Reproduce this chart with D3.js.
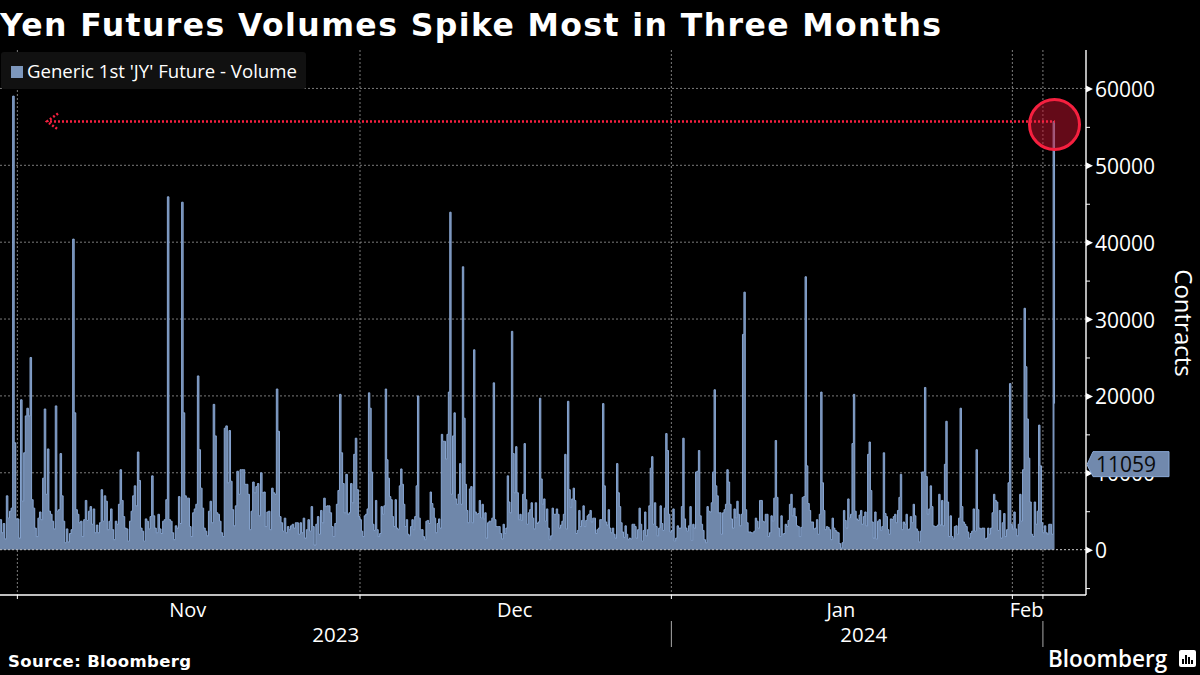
<!DOCTYPE html>
<html>
<head>
<meta charset="UTF-8" />
<script src="https://d3js.org/d3.v7.min.js"></script>
<style>
  html, body { margin: 0; background: #000; }
  svg { display: block; }
  text { font-family: "Open Sans", sans-serif; fill: #fff; }
</style>
</head>
<body>
<div id="chart"></div>
<script>
// volume, one list per stretch of the x axis
const volOctNov = [3900,2200,3400,1400,7000,4100,5000,5400,59000,13900,4000,4000,1500,19500,6300,12600,17400,18400,17400,25000,6500,5400,2800,1700,4100,4900,3900,9300,18300,7200,13100,5000,4600,3700,2700,18700,5000,5200,12500,7000,3700,900,2700,1000,2100,2600,40400,17800,5200,4600,3500,3700,1700,3900,6400,3800,5000,5600,3300,5300,2200,3200,2200,3500,7800,3700,7000,6300,2600,3700,5300,2600,1300,3700,3300,5900,10400,6400,4300,2800,2700,1100,3700,5000,7000,8300,5700,12700,9000,2800,2400,1100,4000,3700,2700,4300,9600,4400,2800,2200,4600,2700,2100,3700,3900,6500,45900,3900,3700,2200,1300,3100,2800,6900,3400,45200,17800,7000,6700,6700,3000,1700,4800,5300,5900,22600,13000,8000,5400,2800,2400,1800,5000,6300,3500,18900,14800,4800,4600,3700,2200,1700,15800,16100,8700,15500,8900,5200,3100,5700,10200,7200,10400,10400,10400,8500,8500,7200,2600,5000,8800,7400,8200,8600,4400,10000,7400,7500,3000,4900,5000,2600,8000,7400,7200,20900,15400,4300,3500,2400,4100,2200,3000,2600,3100,3300,2800,3500,3500,2000,3500,2200,4100,1500,2600,3900,2400,5600,3000,600,3300,4300,2000,5100,3500,6700,5600,5700,5700,4800,3000,1700,3400,5900,7700,20200,12600,8600,4800,9800,4600,4800,8600,6100,12400,14500,7800,4300];
const volNovDec = [3900,2400,1700,4400,4600,5300,20400,18400,10100,3300,2500,6400,2600,1700,2100,5600,4600,5700,20900,11700,9300,6900,6500,4300,3000,6500,2800,2600,8300,10500,8500,5900,3000,3900,2000,1800,3000,3900,2600,4300,8300,20000,4100,2600,2600,1700,1300,3700,3800,3400,7500,6000,5400,4100,2200,3400,4000,2800,15000,14100,14100,11800,15000,20500,43900,7200,14800,17800,6600,5900,7200,11200,5900,36800,17100,8500,5100,3500,7900,8200,3500,26000,4900,4600,4700,6400,4100,5900,4000,4800,1500,3500,3700,3700,4100,21700,3900,3000,3000,3000,2100,1400,3300,2100,2800,9600,6200,4800,28400,12500,7400,13400,7400,3900,4600,3800,7200,13800,6500,3300,4800,5200,6100,4100,2700,6100,3400,3600,19700,9200,5900,6600,3700,5300,2800,1300,1800,5400,4600,4600,5300,4600,2800,3200,3700,4600,12400,2700,19300,7800,5500,6600,8000,6400,2100,2500,5100,3000,3800,5700,3000,3800,4400,4600,5100,3600,4100,4100,2100,2600,2800,3900,3900,19000,8300,3600,3200,5200,2800,2200,2800,2000,1500,11200,7400,5600,3500,2300,1600,3100,2000,1300,1500,1400,3300,3300,3000,1500,2600,5400,3300,1100,2500,4900,1800,2600,5700,10600,12100,3300,6100,3000,1800,2800];
const volDecJan = [5700,3400,2500,5400,15100,12900,4600,2300,2500,5300,1100,1500,3100,2800,2800,5600,14500,4000,2800,2400,3100,5600,1200,3300,2800,10100,10200,12900,4400,3300,2500,1300,900,5600,5000,4900,6100,10100,20800,8300,7000,4800,4800,2000,4800,5200,5900,10400,8800,5900,4000,2800,5300,4100,6300,4600,3100,4600,28000,33500,5200,3500,2300,2300,2200,2200,2400,4100,3700,2800,6400,6400,3700,3600,4600,4600,1700,2200,4400,3700,6700,14200,6800,2800,1700,4400,2000,2100,3300,3000,3800,5900,7200,4400,5400,4300,3100,3000,1700,2900,6800,6900,35500,10900,6000,5100,3600,3600,2700,2800,3900,2000,4600,20500,8700,5100,2600,3000,2900,2600,1300,4100,2800,2500,2300,2200,800,200,900,5100,3800,2800,6600,4100,4600,13800,20200,5000,4000,3800,4500,5100,3300,4300,4900,3100,12400,14000,7700,3600,1500,4900,1400,3700,3900,2500,3000,12600,4700,4300,2600,2000,4000,3900,4300,4600,3500,5100,6800,9800,2600,3600,3300,4600,2600,2700,4300,3500,5900,4400,2700,2400,1000,2400,10100,10100,21100,9500,4600,5300,8300,5600,3100,3000,3000,3200,7200,3200,6400,3100,11100,16700,6200,1700,4400,1700,1400,3000,3100,2000,4100];
const volJanFeb = [18400,5600,3600,3300,3000,2300,1500,2100,2400,5300,2400,13000,5200,2800,2700,2800,2800,1400,1500,2800,2000,2800,4800,7200,6400,6200,2500,5100,1500,3500,4700,1700,2600,8700,21600,3300,2700,4900,2700,1800,3300,7200,3700,10400,31400,23800,17000,11900,6200,2000,1700,6200,3300,5000,16200,10900,3500,2200,3100,2200,2000,3300,3300,2000,55700,19000];
const yTicks = [0,10000,20000,30000,40000,50000,60000];
const yMinorTicks = [-5000,5000,15000,25000,35000,45000,55000];
const monthLabels = ["Nov","Dec","Jan","Feb"];
const yearLabels = ["2023","2024"];
const lastVolume = 11059;
const calloutVolume = 55700;

const w = 1200, h = 675;
const volume = volOctNov.concat(volNovDec, volDecJan, volJanFeb);
const n1 = volOctNov.length, n2 = n1 + volNovDec.length, n3 = n2 + volDecJan.length;

// stretches are pinned to the picture so the spikes stay under their pixels
const x = d3.scaleLinear()
  .domain([0, n1, n2, n3, volume.length])
  .range([0, 360, 660, 960, 1056]);
const y = d3.scaleLinear().domain([-5900, 65000]).range([595, 50]);

// month boundaries as bar numbers
const monthIdx = [11, n1, n2 + 8, n3 + 36, n3 + 57];
const plotRight = 1086, plotBottom = 595, plotTop = 50;

const svg = d3.select("#chart").append("svg").attr("width", w).attr("height", h);
svg.append("rect").attr("width", w).attr("height", h).attr("fill", "#000");

// title
svg.append("text").attr("x", 0).attr("y", 36)
  .attr("textLength", 941).attr("lengthAdjust", "spacing")
  .style("font-family", "'DejaVu Sans'").style("font-weight", 700).style("font-size", "31.5px")
  .text("Yen Futures Volumes Spike Most in Three Months");

// grid
const grid = "#9a9a9a";
svg.append("g").selectAll("line").data(yTicks).join("line")
  .attr("x1", 0).attr("x2", plotRight).attr("y1", d => y(d)).attr("y2", d => y(d))
  .attr("stroke", grid).attr("stroke-width", 0.8).attr("stroke-dasharray", "2,2");
svg.append("g").selectAll("line").data(monthIdx).join("line")
  .attr("x1", d => x(d)).attr("x2", d => x(d)).attr("y1", plotTop).attr("y2", plotBottom)
  .attr("stroke", grid).attr("stroke-width", 0.8).attr("stroke-dasharray", "2,2");

// legend box
svg.append("rect").attr("x", 1).attr("y", 52).attr("width", 305).attr("height", 37).attr("rx", 3).attr("fill", "#111");
svg.append("rect").attr("x", 11).attr("y", 66).attr("width", 12).attr("height", 12).attr("fill", "#7d97bc");
svg.append("text").attr("x", 27).attr("y", 78).style("font-size", "18.6px").text("Generic 1st 'JY' Future - Volume");

// volume
const area = d3.area().x((d, i) => x(i)).y0(y(0)).y1(d => y(d)).curve(d3.curveStepAfter);
const topLine = d3.line().x((d, i) => x(i)).y(d => y(d)).curve(d3.curveStepAfter);
svg.append("path").datum(volume).attr("d", area).attr("fill", "#6f87aa");
svg.append("path").datum(volume).attr("d", topLine).attr("fill", "none")
  .attr("stroke", "#8aa9d6").attr("stroke-width", 0.95);

// zero line shows through faintly
svg.append("line").attr("x1", 0).attr("x2", plotRight).attr("y1", y(0)).attr("y2", y(0))
  .attr("stroke", "#c4c4c4").attr("stroke-width", 0.8).attr("stroke-dasharray", "2,2");

// y axis
const yAxis = svg.append("g").attr("transform", `translate(${plotRight},0)`)
  .call(d3.axisRight(y).tickValues(yTicks).tickSize(0).tickPadding(9).tickFormat(d3.format("d")));
yAxis.select(".domain").remove();
yAxis.selectAll("text").attr("dy", "0.38em").style("font-size", "21px");
yAxis.selectAll(".tick").append("path").attr("d", "M0,-3.5L7,0L0,3.5Z").attr("fill", "#fff");
svg.append("g").attr("transform", `translate(${plotRight},0)`)
  .call(d3.axisRight(y).tickValues(yMinorTicks).tickSize(4).tickFormat(""))
  .call(g => g.select(".domain").remove())
  .selectAll("line").attr("stroke", "#fff");
svg.append("line").attr("x1", plotRight).attr("x2", plotRight).attr("y1", plotTop).attr("y2", plotBottom)
  .attr("stroke", "#fff").attr("stroke-width", 1.4);

svg.append("text")
  .attr("transform", `translate(1175,323) rotate(90)`)
  .attr("text-anchor", "middle").style("font-size", "24px").text("Contracts");

// x axis
svg.append("line").attr("x1", 0).attr("x2", plotRight).attr("y1", plotBottom).attr("y2", plotBottom)
  .attr("stroke", "#fff").attr("stroke-width", 1.4);
svg.append("g").selectAll("line").data(monthIdx).join("line")
  .attr("x1", d => x(d)).attr("x2", d => x(d)).attr("y1", plotBottom).attr("y2", plotBottom + 4)
  .attr("stroke", "#fff");
svg.append("g").selectAll("text").data(monthLabels).join("text")
  .attr("x", (d, i) => (x(monthIdx[i]) + x(monthIdx[i + 1])) / 2 - 1)
  .attr("y", 617).attr("text-anchor", "middle").style("font-size", "20px").text(d => d);
const yearEdges = [0, monthIdx[2], volume.length];
svg.append("g").selectAll("text").data(yearLabels).join("text")
  .attr("x", (d, i) => (x(yearEdges[i]) + x(yearEdges[i + 1])) / 2)
  .attr("y", 642).attr("text-anchor", "middle").style("font-size", "20.5px").text(d => d);
svg.append("g").selectAll("line").data([monthIdx[2], monthIdx[4]]).join("line")
  .attr("x1", d => x(d)).attr("x2", d => x(d)).attr("y1", 621).attr("y2", 647)
  .attr("stroke", "#aaa");

// last value tag, sits over the 10000 label
const tagY = y(lastVolume);
svg.append("path")
  .attr("d", `M1087,${tagY}L1093,${tagY - 13}H1169V${tagY + 12}H1093Z`)
  .attr("fill", "#7189ad").attr("stroke", "#8aa9d6");
svg.append("text").attr("x", 1096).attr("y", tagY + 7).style("font-size", "21px").style("fill", "#0a0a0a").text(d3.format("d")(lastVolume));

// callout
const red = "#f5203f";
const lineY = y(calloutVolume);
svg.append("circle").attr("cx", 1054.5).attr("cy", 124.5).attr("r", 25)
  .attr("fill", "rgba(200,20,48,0.5)").attr("stroke", red).attr("stroke-width", 3);
svg.append("line").attr("x1", 50).attr("x2", 1055).attr("y1", lineY).attr("y2", lineY)
  .attr("stroke", red).attr("stroke-width", 2.5).attr("stroke-dasharray", "2,2");
svg.append("path").attr("d", `M58,${lineY - 8}L47,${lineY}L58,${lineY + 8}`)
  .attr("fill", "none").attr("stroke", red).attr("stroke-width", 2.5).attr("stroke-dasharray", "2,2");

// footer
svg.append("text").attr("x", 8).attr("y", 667)
  .attr("textLength", 183).attr("lengthAdjust", "spacing")
  .style("font-family", "'DejaVu Sans'").style("font-weight", 700).style("font-size", "16.5px")
  .text("Source: Bloomberg");
svg.append("text").attr("x", 1048).attr("y", 667)
  .style("font-family", "'Open Sans'").style("font-weight", 600).style("font-size", "22.5px")
  .text("Bloomberg");
svg.append("rect").attr("x", 1179).attr("y", 650).attr("width", 17).attr("height", 17).attr("rx", 2).attr("fill", "#fff");
svg.append("g").selectAll("rect").data([5, 9, 7, 4]).join("rect")
  .attr("x", (d, i) => 1182 + i * 3).attr("y", d => 664 - d).attr("width", 2).attr("height", d => d).attr("fill", "#000");
</script>
</body>
</html>
